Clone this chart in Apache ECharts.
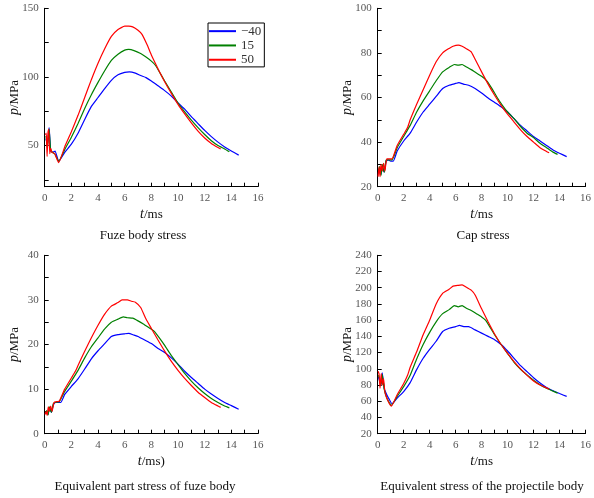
<!DOCTYPE html>
<html>
<head>
<meta charset="utf-8">
<script src="https://cdn.jsdelivr.net/npm/echarts@6/dist/echarts.min.js"></script>
<style>html,body{margin:0;padding:0;background:#fff}#c{width:594px;height:498px}</style>
</head>
<body>
<div id="c"></div>
<script>
// ---- Data (t in ms, p in MPa) ----
const seriesNames = ['\u221240', '15', '50'];
const seriesColors = ['#0000ff', '#008000', '#ff0000'];
const panelTitles = ['Fuze body stress', 'Cap stress', 'Equivalent part stress of fuze body', 'Equivalent stress of the projectile body'];
const xTitles = ['ms', 'ms', 'ms)', 'ms'];

// Panel 1: Fuze body stress
const fuzeM40 = [[0.1,55],[0.2,50],[0.33,63],[0.45,46],[0.6,45],[0.78,46],[1.05,38.5],[1.5,45],[2,51],[2.5,59],[3,69],[3.5,78.5],[4,85],[4.5,91.5],[5,97.5],[5.5,101.5],[6,103.3],[6.35,103.7],[6.8,102.8],[7.2,101],[7.6,99.5],[8,97],[8.5,93.5],[9,90],[9.5,86],[10,81],[10.5,76.5],[11,71],[11.5,66],[12,61],[12.5,56.5],[13,52.5],[13.5,49],[14,46],[14.55,43]];
const fuze15 = [[0.1,57],[0.2,48],[0.33,62],[0.45,46],[0.6,45],[0.75,44],[1.05,38.5],[1.5,47],[2,56],[2.5,66],[3,77],[3.5,87],[4,96],[4.5,104.5],[5,112],[5.5,116.5],[6,119.5],[6.3,120],[6.7,119.2],[7.2,117],[7.6,114.5],[8,111.5],[8.3,108.5],[8.7,102],[9,97],[9.5,89],[10,81],[10.5,74.5],[11,68.5],[11.5,63],[12,58],[12.5,53.5],[13,50],[13.5,47.5],[13.85,45.5]];
const fuze50 = [[0.05,58],[0.12,59],[0.18,42],[0.25,60],[0.3,62],[0.38,44],[0.45,48],[0.55,45],[0.75,44],[1.05,37.5],[1.5,49],[2,60],[2.5,72],[3,85],[3.5,98],[4,110],[4.5,120.5],[5,129.5],[5.5,134.5],[6,137],[6.3,137],[6.6,136.5],[7,134],[7.3,131],[7.7,123],[8,116],[8.5,106],[9,96.5],[9.5,88],[10,80],[10.5,73],[11,66.5],[11.5,60.5],[12,55.5],[12.5,51.5],[13,48.5],[13.2,47.5]];

// Panel 2: Cap stress
const capM40 = [[0.05,26],[0.15,28],[0.25,25.5],[0.35,29],[0.5,26.5],[0.65,31.5],[0.8,32],[1.0,31.5],[1.2,31.5],[1.5,36],[2,40.5],[2.5,44],[3,49],[3.5,53.5],[4,57],[4.5,60.5],[5,64],[5.5,65.5],[6,66.3],[6.25,66.7],[6.6,66],[7,65.5],[7.5,64],[8,62],[8.5,59.8],[9,57.8],[9.5,55.8],[10,53.5],[10.5,50.5],[11,47.5],[11.5,45],[12,42.5],[12.5,40.5],[13,38.5],[13.5,36.5],[14,35],[14.55,33.5]];
const cap15 = [[0.05,27],[0.15,29],[0.25,25],[0.35,30],[0.5,26.5],[0.65,32],[0.8,32],[1.1,32],[1.5,37.5],[2,42.5],[2.5,47.5],[3,53.5],[3.5,58.5],[4,63],[4.5,67.5],[5,71.5],[5.5,73.5],[5.9,74.8],[6.2,74.5],[6.5,74.8],[6.8,73.8],[7.2,72.5],[7.6,71],[8,69.5],[8.4,67.5],[8.8,64],[9.2,60],[9.6,56.5],[10,53.5],[10.5,50.5],[11,47],[11.5,44],[12,42],[12.5,39.5],[13,37.5],[13.5,35.5],[13.85,34.5]];
const cap50 = [[0.03,24.5],[0.1,29],[0.18,24.5],[0.25,30],[0.35,27],[0.45,30.5],[0.55,27],[0.7,32.5],[0.9,32.5],[1.1,32.5],[1.5,38.5],[2,43.5],[2.3,46.5],[2.5,50],[3,57],[3.5,63.5],[4,70],[4.5,76],[5,80],[5.5,82],[5.8,83],[6.2,83.5],[6.5,83],[6.8,82],[7.2,80.5],[7.6,76],[8,71.5],[8.5,66],[9,61],[9.5,56.5],[10,52.5],[10.5,49],[11,45.5],[11.5,42.5],[12,40],[12.5,37.5],[13,35.8],[13.2,35.2]];

// Panel 3: Equivalent part stress of fuze body
const partM40 = [[0.05,4.5],[0.15,5],[0.25,4.3],[0.35,5.8],[0.5,4.8],[0.65,6.5],[0.8,7],[1.0,7],[1.2,7],[1.5,8.8],[2,10.6],[2.5,12.3],[3,14.5],[3.5,16.8],[4,18.6],[4.5,20.2],[5,21.8],[5.5,22.2],[6,22.4],[6.3,22.5],[6.7,22.1],[7,21.8],[7.5,21.0],[8,20.2],[8.5,19.1],[9,18.2],[9.5,17.0],[10,15.6],[10.5,14.0],[11,12.6],[11.5,11.3],[12,10.0],[12.5,8.9],[13,7.9],[13.5,7.0],[14,6.3],[14.55,5.5]];
const part15 = [[0.05,4.6],[0.15,5.2],[0.25,4.2],[0.35,6],[0.5,4.8],[0.65,6.8],[0.8,7],[1.1,7.2],[1.5,9.5],[2,11.8],[2.5,14.2],[3,17],[3.5,19.5],[4,21.5],[4.5,23.5],[5,25],[5.5,25.7],[5.9,26.2],[6.2,26],[6.6,25.9],[7,25.3],[7.4,24.6],[7.8,23.8],[8.2,23],[8.6,21.5],[9,19.8],[9.5,17.5],[10,15.5],[10.5,13.5],[11,11.8],[11.5,10.3],[12,9.0],[12.5,7.9],[13,7],[13.5,6.2],[13.85,5.8]];
const part50 = [[0.03,4.3],[0.1,5],[0.18,4.1],[0.27,6],[0.35,5],[0.45,6.2],[0.55,5],[0.7,7],[0.9,7.2],[1.1,7.3],[1.5,10],[2,12.5],[2.3,14],[2.5,15.3],[3,18.5],[3.5,21.5],[4,24.3],[4.5,26.8],[5,28.6],[5.5,29.4],[5.8,30],[6.2,30],[6.5,29.7],[6.8,29.5],[7.2,28.3],[7.6,25.7],[8,23.6],[8.5,21],[9,18.5],[9.5,16.2],[10,14.2],[10.5,12.4],[11,10.8],[11.5,9.3],[12,8.1],[12.5,7],[13,6.2],[13.2,5.9]];

// Panel 4: Equivalent stress of the projectile body
const projM40 = [[0.05,90],[0.15,85],[0.25,80],[0.35,95],[0.5,76],[0.7,68],[0.9,62],[1.1,57],[1.5,64],[2,72],[2.5,83],[3,99],[3.5,113],[4,124],[4.5,134],[5,146],[5.5,150],[6,152],[6.3,153.5],[6.7,152],[7,152],[7.5,148],[8,144],[8.5,140],[9,136],[9.5,130],[10,122],[10.5,113],[11,104],[11.5,96.5],[12,89],[12.5,82.5],[13,77],[13.5,73],[14,69.5],[14.55,66]];
const proj15 = [[0.05,92],[0.15,88],[0.25,80],[0.35,93],[0.5,75],[0.7,64],[0.9,58],[1.05,55],[1.5,66],[2,78],[2.5,92],[3,112],[3.5,130],[4,145],[4.5,158],[5,168],[5.5,173],[5.9,178],[6.2,176.5],[6.5,178],[6.8,175],[7.2,172],[7.6,168],[8,164],[8.3,160],[8.7,150],[9,142],[9.5,130],[10,119],[10.5,108],[11,99.5],[11.5,92.5],[12,86],[12.5,80.5],[13,76],[13.5,72.5],[13.85,70]];
const proj50 = [[0.03,97],[0.1,94],[0.18,76],[0.27,94],[0.35,80],[0.45,88],[0.55,72],[0.7,64],[0.9,57],[1.05,54],[1.5,68],[2,82],[2.3,92],[2.5,102],[3,121],[3.5,142],[4,160],[4.5,180],[5,193],[5.5,198],[5.8,202],[6.2,203],[6.5,203.5],[6.8,201],[7.2,197],[7.5,191],[8,174],[8.5,158],[9,143],[9.5,130],[10,119],[10.5,109],[11,100],[11.5,92],[12,85],[12.5,80],[13,76.5],[13.2,75]];

// Axis ranges / ticks
const xTickValues = [0,1,2,3,4,5,6,7,8,9,10,11,12,13,14,15,16];
const xLabelValues = [0,2,4,6,8,10,12,14,16];
const yRanges = [[20,150],[20,100],[0,40],[20,240]];
const yTickValues = [[25,50,75,100,125,150],[20,30,40,50,60,70,80,90,100],[0,5,10,15,20,25,30,35,40],[20,40,60,80,100,120,140,160,180,200,220,240]];
const yLabelValues = [[50,100,150],[20,40,60,80,100],[0,10,20,30,40],[20,40,60,80,100,120,140,160,180,200,220,240]];

const panelData = [[fuzeM40, fuze15, fuze50],[capM40, cap15, cap50],[partM40, part15, part50],[projM40, proj15, proj50]];

// ---- Layout ----
const FONT = "'Liberation Serif', 'Times New Roman', serif";
const grids = [
  {left: 44.7, top: 8.3, width: 213.3, height: 178.4},
  {left: 377.7, top: 8.3, width: 213.3, height: 178.4},
  {left: 44.7, top: 255.3, width: 213.3, height: 178.4},
  {left: 377.7, top: 255.3, width: 213.3, height: 178.4}
];
const titlePos = [[143, 236], [483, 236], [145, 487], [482, 487]];

const chart = echarts.init(document.getElementById('c'), null, {renderer: 'canvas'});

const xAxes = [], yAxes = [], series = [], graphics = [];
grids.forEach((g, i) => {
  xAxes.push({
    type: 'value', gridIndex: i, min: 0, max: 16, interval: 1,
    axisLine: {show: true, onZero: false, lineStyle: {color: '#000', width: 1}},
    axisTick: {show: true, inside: true, length: 4, lineStyle: {color: '#000'}, customValues: xTickValues},
    axisLabel: {color: '#555', fontFamily: FONT, fontSize: 11, margin: 6, customValues: xLabelValues},
    splitLine: {show: false},
    name: '{i|t}{n|/' + xTitles[i] + '}',
    nameLocation: 'middle', nameGap: 21, nameMoveOverlap: false,
    nameTextStyle: {rich: {i: {fontFamily: FONT, fontStyle: 'italic', fontSize: 14, color: '#111'}, n: {fontFamily: FONT, fontSize: 13, color: '#111'}}}
  });
  yAxes.push({
    type: 'value', gridIndex: i, min: yRanges[i][0], max: yRanges[i][1],
    axisLine: {show: true, onZero: false, lineStyle: {color: '#000', width: 1}},
    axisTick: {show: true, inside: true, length: 4, lineStyle: {color: '#000'}, customValues: yTickValues[i]},
    axisLabel: {color: '#555', fontFamily: FONT, fontSize: 11, margin: 6, customValues: yLabelValues[i]},
    splitLine: {show: false},
    name: '{i|p}{n|/MPa}',
    nameLocation: 'middle', nameGap: 23, nameMoveOverlap: false,
    nameTextStyle: {rich: {i: {fontFamily: FONT, fontStyle: 'italic', fontSize: 14, color: '#111'}, n: {fontFamily: FONT, fontSize: 13, color: '#111'}}}
  });
  panelData[i].forEach((d, k) => {
    series.push({
      type: 'line', name: seriesNames[k], xAxisIndex: i, yAxisIndex: i,
      data: d, symbol: 'none', smooth: 0.15,
      lineStyle: {color: seriesColors[k], width: 1.2},
      itemStyle: {color: seriesColors[k]},
      z: 2 + k
    });
  });
  graphics.push({
    type: 'text', x: titlePos[i][0], y: titlePos[i][1],
    style: {text: panelTitles[i], fill: '#111', font: '13px ' + FONT, textAlign: 'center', textVerticalAlign: 'middle'}
  });
});

chart.setOption({
  animation: false,
  backgroundColor: '#fff',
  grid: grids,
  xAxis: xAxes,
  yAxis: yAxes,
  series: series,
  graphic: graphics,
  legend: {
    data: seriesNames.map((n, k) => ({name: n, icon: 'rect', itemStyle: {color: seriesColors[k]}})),
    orient: 'vertical', left: 208, top: 23,
    itemWidth: 27, itemHeight: 2, itemGap: 0,
    padding: [1, 3, 0, 1],
    borderColor: '#000', borderWidth: 1,
    textStyle: {fontFamily: FONT, fontSize: 13, color: '#333', lineHeight: 14.3}
  }
});
</script>
</body>
</html>
